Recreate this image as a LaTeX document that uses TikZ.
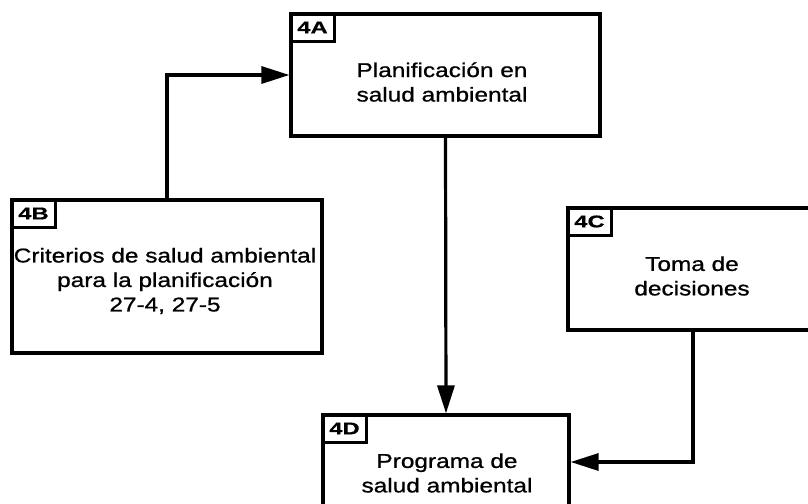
\documentclass[tikz,border=0pt]{standalone}
\usepackage{fontspec}
\setmainfont[FakeStretch=1.22,FakeBold=0.9]{Liberation Sans}
\newfontfamily\tagfont[FakeStretch=1.4,FakeBold=0.6]{Liberation Sans}
\usetikzlibrary{arrows.meta}
\tikzset{
  boxnode/.style={draw, line width=3.2pt, inner sep=0pt},
  tagnode/.style={draw, line width=2.2pt, anchor=north west, minimum width=44pt, minimum height=28pt,
    inner sep=0pt, font=\tagfont\bfseries\fontsize{17}{19}\selectfont},
  txt/.style={align=center, font=\fontsize{20}{24.5}\selectfont, inner sep=0pt},
  conn/.style={line width=3.2pt, -{Triangle[length=28pt,width=17pt]}}
}
\begin{document}
\begin{tikzpicture}[x=1pt,y=-1pt]
\useasboundingbox (0,0) rectangle (808,503);
\clip (0,0) rectangle (808,503);
% boxes
\node[boxnode, minimum width=309pt, minimum height=122pt] (A) at (445.5,75) {};
\node[boxnode, minimum width=310pt, minimum height=153pt] (B) at (167,276.5) {};
\node[boxnode, minimum width=250pt, minimum height=122pt] (C) at (693,269) {};
\node[boxnode, minimum width=246pt, minimum height=94pt] (D) at (446,462) {};
% tags
\node[tagnode] (tA) at (A.north west) {4A};
\node[tagnode] (tB) at (B.north west) {4B};
\node[tagnode] (tC) at (C.north west) {4C};
\node[tagnode] (tD) at (D.north west) {4D};
% texts
\node[txt] (xA) at (442,82) {Planificación en\\salud ambiental};
\node[txt] (xB) at (165,281) {Criterios de salud ambiental\\para la planificación\\27-4, 27-5};
\node[txt] (xC) at (692,276) {Toma de\\decisiones};
\node[txt] (xD) at (447,473) {Programa de\\salud ambiental};
% connectors
\draw[conn] (B.north) |- (A.west);
\draw[conn] (A.south) -- (D.north);
\draw[conn] (C.south) |- (D.east);
\end{tikzpicture}
\end{document}
